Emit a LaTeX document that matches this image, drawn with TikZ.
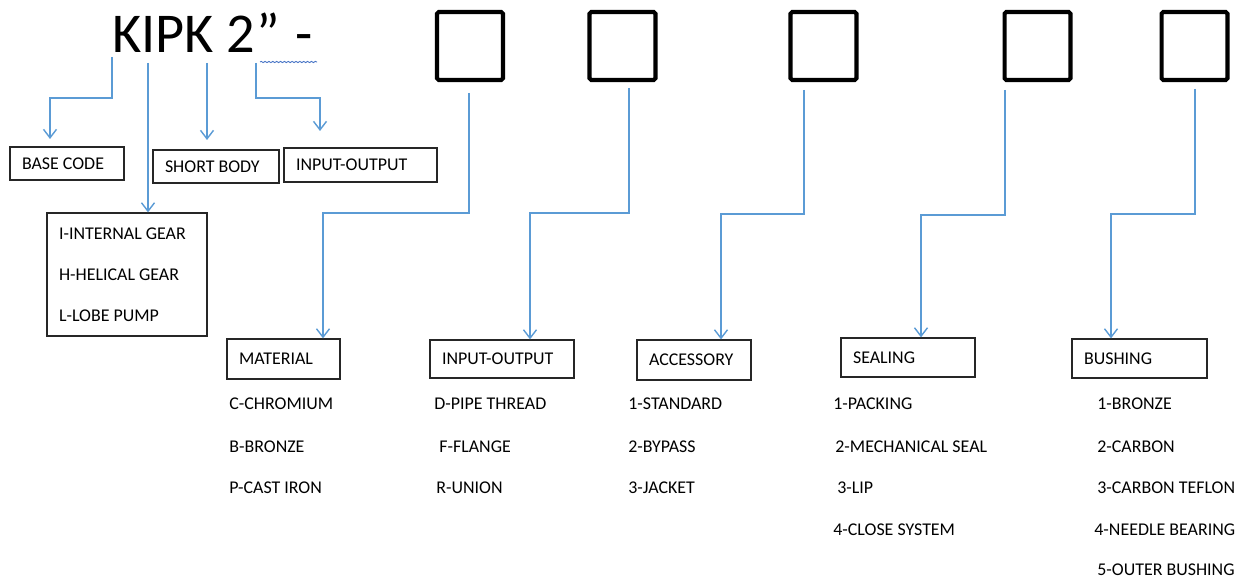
\documentclass[tikz,border=0pt]{standalone}
\usepackage{fontspec}
\setmainfont{Carlito}
\usetikzlibrary{arrows.meta,decorations.pathmorphing}
\definecolor{linkblue}{RGB}{91,155,213}
\definecolor{wavyblue}{RGB}{68,114,196}
\tikzset{
  codebox/.style={draw=black!85, line width=0.7pt, inner xsep=0.24cm, inner ysep=0pt, align=flush left,
    font=\fontsize{10.2}{12}\selectfont},
  slot/.style={draw, line width=2.3pt, rounded corners=1pt, inner sep=0pt,
    minimum width=1.32cm, minimum height=1.36cm},
  link/.style={draw=linkblue, line width=0.8pt, -{Straight Barb[length=1.7mm,width=2.6mm]}},
  item/.style={anchor=base west, inner sep=0pt, font=\fontsize{10.2}{12}\selectfont},
}
\begin{document}
\begin{tikzpicture}[x=0.02cm,y=-0.02cm]
        \useasboundingbox (0,0) rectangle (1243,577);
        % code and the five slots
        \node[anchor=base west, inner sep=0pt, font=\fontsize{32}{36}\selectfont] (code) at (112,53) {KIPK 2\kern0.03cm”\kern0.06cm\ -};
        \draw[wavyblue, line width=0.5pt, decorate, decoration={snake, amplitude=0.35pt, segment length=2.2pt}] (260,62) -- (317,62);
        \foreach \x [count=\i] in {470,622.5,823.5,1037.5,1194.5}
            \node[slot] (sq\i) at (\x,46) {};
        % boxes under the code
        \node[codebox, text width=1.8cm, minimum height=0.66cm] (base) at (67,163.5) {BASE CODE};
        \node[codebox, text width=2.04cm, minimum height=0.66cm] (short) at (216,166.5) {SHORT BODY};
        \node[codebox, text width=2.58cm, minimum height=0.68cm] (inout) at (360.5,165) {INPUT-OUTPUT};
        \node[codebox, text width=2.72cm, minimum height=2.46cm, font=\fontsize{10.2}{23.3}\selectfont] (gear) at (127,274.5)
            {I-INTERNAL GEAR\\H-HELICAL GEAR\\L-LOBE PUMP};
        % boxes under the slots
        \node[codebox, text width=1.78cm, minimum height=0.8cm] (mat) at (283.5,359) {MATERIAL};
        \node[codebox, text width=2.4cm, minimum height=0.76cm] (conn) at (502,359) {INPUT-OUTPUT};
        \node[codebox, text width=1.8cm, minimum height=0.8cm] (acc) at (694,360) {ACCESSORY};
        \node[codebox, text width=2.2cm, minimum height=0.78cm] (seal) at (908,357.5) {SEALING};
        \node[codebox, text width=2.22cm, minimum height=0.78cm] (bush) at (1139.5,358.5) {BUSHING};
        % option lists
        \foreach \t/\x/\y [count=\i] in {C-CHROMIUM/229/409, B-BRONZE/229/452, P-CAST IRON/229/493}
            \node[item] (mat-\i) at (\x,\y) {\t};
        \foreach \t/\x/\y [count=\i] in {D-PIPE THREAD/434/409, F-FLANGE/439/452, R-UNION/436/493}
            \node[item] (conn-\i) at (\x,\y) {\t};
        \foreach \t/\x/\y [count=\i] in {1-STANDARD/628/409, 2-BYPASS/628/452, 3-JACKET/628/493}
            \node[item] (acc-\i) at (\x,\y) {\t};
        \foreach \t/\x/\y [count=\i] in {1-PACKING/833/409, 2-MECHANICAL SEAL/835/452, 3-LIP/837/493, 4-CLOSE SYSTEM/833/535}
            \node[item] (seal-\i) at (\x,\y) {\t};
        \foreach \t/\x/\y [count=\i] in {1-BRONZE/1097/409, 2-CARBON/1097/452, 3-CARBON TEFLON/1097/493, 4-NEEDLE BEARING/1094/535, 5-OUTER BUSHING/1097/575}
            \node[item] (bush-\i) at (\x,\y) {\t};
        % arrows from the code
        \coordinate (c1) at (112,57);  \coordinate (c1e) at (50,139);
        \coordinate (c2) at (148,63);
        \coordinate (c3) at (207,63);  \coordinate (c3e) at (207,140);
        \coordinate (c4) at (256,63);  \coordinate (c4e) at (320,131);
        \draw[link] (c1) -- ++(0,41) -| (c1e);
        \draw[link] (c2) -- (c2 |- gear.north);
        \draw[link] (c3) -- (c3e);
        \draw[link] (c4) -- ++(0,35) -| (c4e);
        % arrows from the slots
        \coordinate (s1) at (469,93);   \coordinate (t1) at (323,213);
        \coordinate (s2) at (629,88);   \coordinate (t2) at (530,213);
        \coordinate (s3) at (804,90);   \coordinate (t3) at (721,214);
        \coordinate (s4) at (1005,90);  \coordinate (t4) at (921,215);
        \coordinate (s5) at (1195,89);  \coordinate (t5) at (1111,214);
        \draw[link] (s1) |- (t1) -- (t1 |- mat.north);
        \draw[link] (s2) |- (t2) -- (t2 |- conn.north);
        \draw[link] (s3) |- (t3) -- (t3 |- acc.north);
        \draw[link] (s4) |- (t4) -- (t4 |- seal.north);
        \draw[link] (s5) |- (t5) -- (t5 |- bush.north);
    \end{tikzpicture}
\end{document}
